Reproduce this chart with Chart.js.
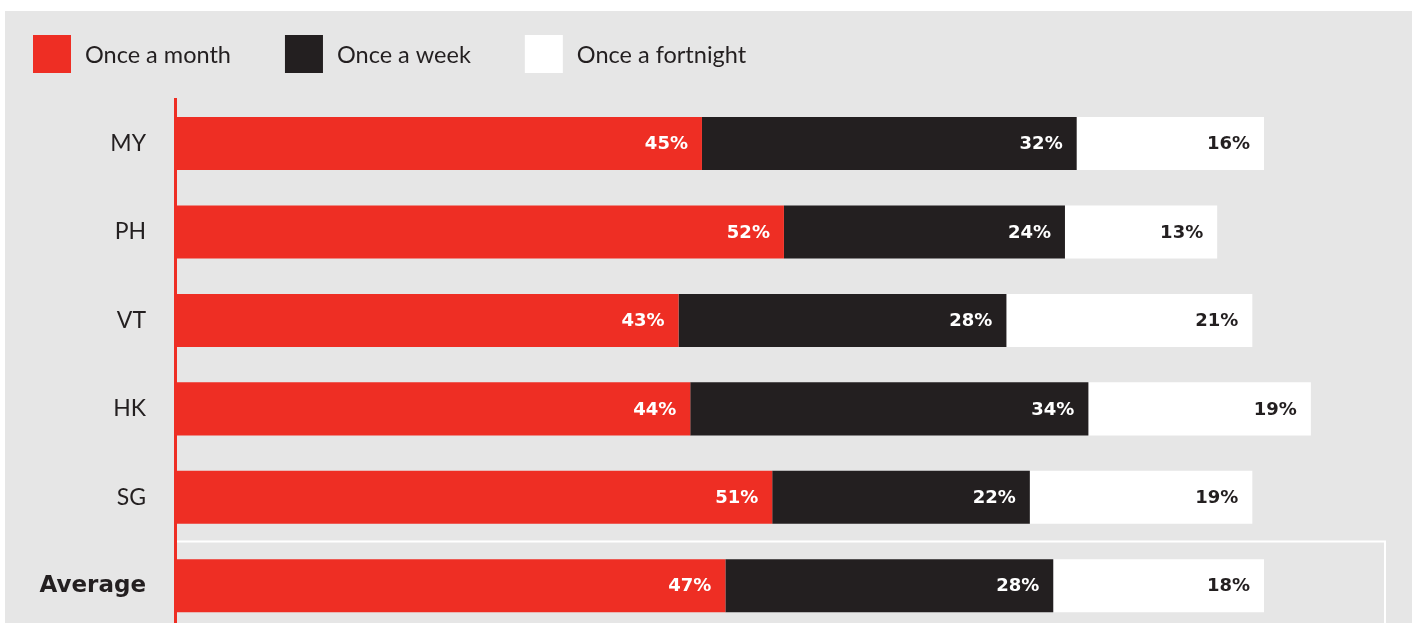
<!DOCTYPE html>
<html>
<head>
<meta charset="utf-8">
<script src="https://cdn.jsdelivr.net/npm/chart.js@4"></script>
<style>
  html, body { margin: 0; padding: 0; background: #ffffff; overflow: hidden; }
  #wrap { position: relative; width: 1416px; height: 630px; }
</style>
</head>
<body>
<div id="wrap"><canvas id="chart"></canvas></div>
<script>
// Purchase frequency by market (share of respondents, %)
const categories = ['MY', 'PH', 'VT', 'HK', 'SG', 'Average'];
const seriesNames = ['Once a month', 'Once a week', 'Once a fortnight'];
const onceAMonth = [45, 52, 43, 44, 51, 47];
const onceAWeek = [32, 24, 28, 34, 22, 28];
const onceAFortnight = [16, 13, 21, 19, 19, 18];

const RED = '#ee2e24';
const BLACK = '#231f20';
const WHITE = '#ffffff';
const PANEL = '#e6e6e6';
const TEXT = '#231f20';

const NORMAL_FONT = 'Lato, "Open Sans", sans-serif';
const BOLD_FONT = '"DejaVu Sans", sans-serif';

// Page panel behind the chart
const panelPlugin = {
  id: 'panel',
  beforeDraw(chart) {
    const { ctx, width, height } = chart;
    ctx.save();
    ctx.fillStyle = WHITE;
    ctx.fillRect(0, 0, width, height);
    ctx.fillStyle = PANEL;
    ctx.fillRect(5, 11, 1407, height - 11);
    ctx.restore();
  }
};

// Outline that frames the "Average" row
const averageFramePlugin = {
  id: 'averageFrame',
  beforeDatasetsDraw(chart) {
    const { ctx, chartArea, scales } = chart;
    const y = scales.y;
    const last = categories.length - 1;
    const top = (y.getPixelForValue(last - 1) + y.getPixelForValue(last)) / 2;
    const right = chartArea.right + 39;
    ctx.save();
    ctx.strokeStyle = WHITE;
    ctx.lineWidth = 2;
    ctx.beginPath();
    ctx.moveTo(chartArea.left + 2, top);
    ctx.lineTo(right, top);
    ctx.lineTo(right, chart.height + 5);
    ctx.stroke();
    ctx.restore();
  }
};

// Square-swatch legend across the top
const legendPlugin = {
  id: 'squareLegend',
  afterDraw(chart) {
    const { ctx } = chart;
    const box = 38;
    const top = 35;
    let x = 33;
    ctx.save();
    ctx.font = '23.5px ' + NORMAL_FONT;
    ctx.textBaseline = 'middle';
    ctx.textAlign = 'left';
    chart.data.datasets.forEach(ds => {
      ctx.fillStyle = ds.backgroundColor;
      ctx.fillRect(x, top, box, box);
      ctx.fillStyle = TEXT;
      const tx = x + box + 14;
      ctx.fillText(ds.label, tx, top + box / 2 + 1);
      x = tx + ctx.measureText(ds.label).width + 54;
    });
    ctx.restore();
  }
};

// Percentage labels, right-aligned inside each segment
const valueLabelPlugin = {
  id: 'valueLabels',
  afterDatasetsDraw(chart) {
    const { ctx } = chart;
    ctx.save();
    ctx.font = 'bold 18px ' + BOLD_FONT;
    ctx.textAlign = 'right';
    ctx.textBaseline = 'middle';
    chart.data.datasets.forEach((ds, di) => {
      const meta = chart.getDatasetMeta(di);
      meta.data.forEach((bar, i) => {
        ctx.fillStyle = ds.labelColor;
        ctx.fillText(ds.data[i] + '%', bar.x - 14, bar.y + 1);
      });
    });
    ctx.restore();
  }
};

new Chart(document.getElementById('chart'), {
  type: 'bar',
  data: {
    labels: categories,
    datasets: [
      { label: seriesNames[0], data: onceAMonth, backgroundColor: RED, labelColor: WHITE },
      { label: seriesNames[1], data: onceAWeek, backgroundColor: BLACK, labelColor: WHITE },
      { label: seriesNames[2], data: onceAFortnight, backgroundColor: WHITE, labelColor: TEXT }
    ]
  },
  options: {
    indexAxis: 'y',
    responsive: true,
    maintainAspectRatio: false,
    animation: false,
    devicePixelRatio: 1,
    layout: { padding: { top: 99.3, right: 70, bottom: 0, left: 0 } },
    datasets: {
      bar: { categoryPercentage: 1, barPercentage: 0.6, borderWidth: 0 }
    },
    scales: {
      x: {
        stacked: true,
        display: false,
        min: 0,
        max: 100
      },
      y: {
        stacked: true,
        grid: { display: false, drawTicks: false },
        border: { display: true, color: RED, width: 3 },
        afterFit(scale) {
          scale.width = 175;
          scale.paddingTop = 0;
          scale.paddingBottom = 0;
        },
        ticks: {
          padding: 29,
          color: TEXT,
          font: (c) => c.index === categories.length - 1
            ? { family: BOLD_FONT, size: 23, weight: 'bold' }
            : { family: NORMAL_FONT, size: 23, weight: 'normal' }
        }
      }
    },
    plugins: {
      legend: { display: false },
      tooltip: { enabled: false }
    }
  },
  plugins: [panelPlugin, averageFramePlugin, legendPlugin, valueLabelPlugin]
});
</script>
</body>
</html>
